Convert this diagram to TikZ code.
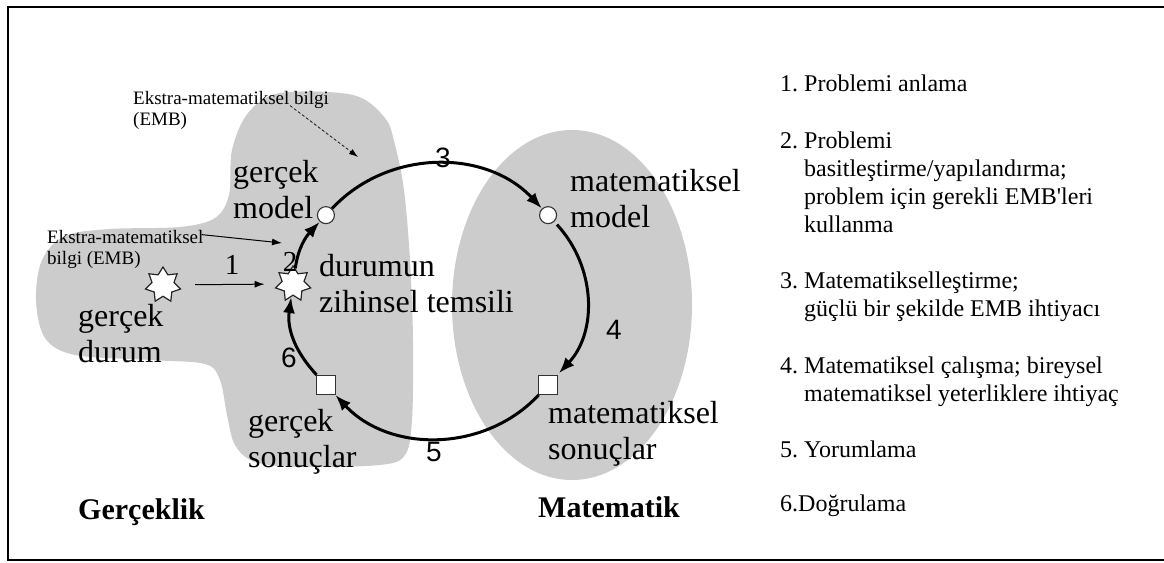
\documentclass[tikz,border=0pt]{standalone}
\usepackage{fontspec}
\setmainfont{Liberation Serif}
\newfontfamily\arialfont{Liberation Sans}
\usepackage{tikz}
\usetikzlibrary{calc,arrows.meta,positioning,shapes.geometric}
\definecolor{blobGray}{RGB}{204,204,204}
\newcommand{\LabelFont}{\fontsize{32}{36}\selectfont}
\newcommand{\ListFont}{\fontsize{24}{28}\selectfont}
\newcommand{\NoteFont}{\fontsize{19}{21}\selectfont}
\newcommand{\StepItem}[2]{\begin{tabular}[t]{@{}l@{\ }l@{}}#1 & #2\end{tabular}}

\begin{document}
\begin{tikzpicture}[x=1pt,y=1pt,
  blob/.style={fill=blobGray,draw=none},
  modelpt/.style={circle,draw=black!80,fill=white,line width=1.1pt,minimum size=17pt,inner sep=0pt},
  resultbox/.style={rectangle,draw=black!80,fill=white,line width=1.1pt,minimum size=19pt,inner sep=0pt},
  burst/.style={star,star points=7,star point ratio=1.6,draw=black!85,fill=white,line width=1.2pt,minimum size=36pt,inner sep=0pt},
  cycarrow/.style={line width=3pt,-{Latex[length=16pt,width=12pt]}},
  thinarrow/.style={line width=1pt,-{Latex[length=10pt,width=7pt]}},
  embarrow/.style={line width=0.7pt,densely dashed,-{Latex[length=9pt,width=6pt]}},
  lbl/.style={font=\LabelFont,align=left,anchor=base west,inner sep=0pt},
  embnote/.style={font=\NoteFont,align=left,anchor=base west,inner sep=0pt},
  sansnum/.style={font=\arialfont\fontsize{28}{28}\selectfont,anchor=base,inner sep=0pt},
  serifnum/.style={font=\fontsize{29}{29}\selectfont,anchor=base,inner sep=0pt},
  regiontitle/.style={font=\fontsize{30}{36}\selectfont\bfseries,anchor=base west,inner sep=0pt},
  steptxt/.style={font=\ListFont,anchor=base west,inner sep=0pt}]
\useasboundingbox (0,0) rectangle (1164,562);
\draw[line width=2pt] (1164,555) -- (8,555) -- (8,2) -- (1164,2);

\path[blob] plot[smooth cycle,tension=0.55] coordinates {
  (280,469) (353,467) (385,444) (395,417) (404,372) (410,302) (413,222)
  (412,142) (405,107) (380,97) (300,95) (255,100) (235,117) (227,147)
  (220,182) (205,198) (150,202) (75,207) (45,224) (36,262) (42,302)
  (65,326) (110,333) (180,335) (215,344) (229,367) (232,412) (248,449)};
\path[blob] (572,257) ellipse[x radius=120,y radius=175];

\node[burst] (gdurum) at (163,277) {};
\begin{scope}[shift={(437,262)}]
  \node[burst] (temsil) at (173:145 and 132) {};
  \node[modelpt] (gmodel) at (140:145 and 132) {};
  \node[modelpt] (mmodel) at (40:145 and 132) {};
  \node[resultbox] (msonuc) at (-40:145 and 132) {};
  \node[resultbox] (gsonuc) at (-140:145 and 132) {};
\end{scope}

\draw[cycarrow] (temsil) to[out=82,in=227] (gmodel);
\draw[cycarrow] (gmodel) to[out=47,in=133] (mmodel);
\draw[cycarrow,shorten <=4pt,shorten >=2pt] (mmodel) to[out=-47,in=47] (msonuc);
\draw[cycarrow] (msonuc) to[out=227,in=-47] (gsonuc);
\draw[cycarrow] (gsonuc) to[out=133,in=262] (temsil);
\draw[thinarrow,shorten <=18pt,shorten >=14pt] (gdurum) -- (temsil);

\node[lbl] (gmodeltxt) at (233,343) {gerçek\\model};
\node[lbl] (mmodeltxt) at (570,334) {matematiksel\\model};
\node[lbl] (temsiltxt) at (319,249) {durumun\\zihinsel temsili};
\node[lbl] (gdurumtxt) at (78,199) {gerçek\\durum};
\node[lbl] (gsonuctxt) at (248,94) {gerçek\\sonuçlar};
\node[lbl] (msonuctxt) at (548,102) {matematiksel\\sonuçlar};

\node[embnote] (emb1) at (133,436) {Ekstra-matematiksel bilgi\\(EMB)};
\node[embnote] (emb2) at (47,297) {Ekstra-matematiksel\\bilgi (EMB)};
\coordinate (emb1tip) at (358,405);
\coordinate (emb2tip) at (282,319);
\draw[embarrow] ($(emb1.north west)+(157,-14)$) -- (emb1tip);
\draw[thinarrow] ($(emb2.north east)+(-2,-4)$) -- (emb2tip);

\node[serifnum] (n1) at (232,287) {1};
\node[serifnum] (n2) at (290,290) {2};
\node[sansnum] (n3) at (443,394) {3};
\node[sansnum] (n4) at (614,222) {4};
\node[sansnum] (n5) at (434,100) {5};
\node[sansnum] (n6) at (289,194) {6};

\node[regiontitle] (realtitle) at (78,42) {Gerçeklik};
\node[regiontitle] (mathtitle) at (538,45) {Matematik};

\node[steptxt] (step1) at (780,470) {\StepItem{1.}{Problemi anlama}};
\node[steptxt,below right=28pt and 0pt of step1.south west] (step2) {\StepItem{2.}{Problemi\\ & basitleştirme/yapılandırma;\\ & problem için gerekli EMB\textquotesingle leri\\ & kullanma}};
\node[steptxt,below right=28pt and 0pt of step2.south west] (step3) {\StepItem{3.}{Matematikselleştirme;\\ & güçlü bir şekilde EMB ihtiyacı}};
\node[steptxt,below right=28pt and 0pt of step3.south west] (step4) {\StepItem{4.}{Matematiksel çalışma; bireysel\\ & matematiksel yeterliklere ihtiyaç}};
\node[steptxt,below right=28pt and 0pt of step4.south west] (step5) {\StepItem{5.}{Yorumlama}};
\node[steptxt,below right=28pt and 0pt of step5.south west] (step6) {6.Doğrulama};
\end{tikzpicture}
\end{document}
